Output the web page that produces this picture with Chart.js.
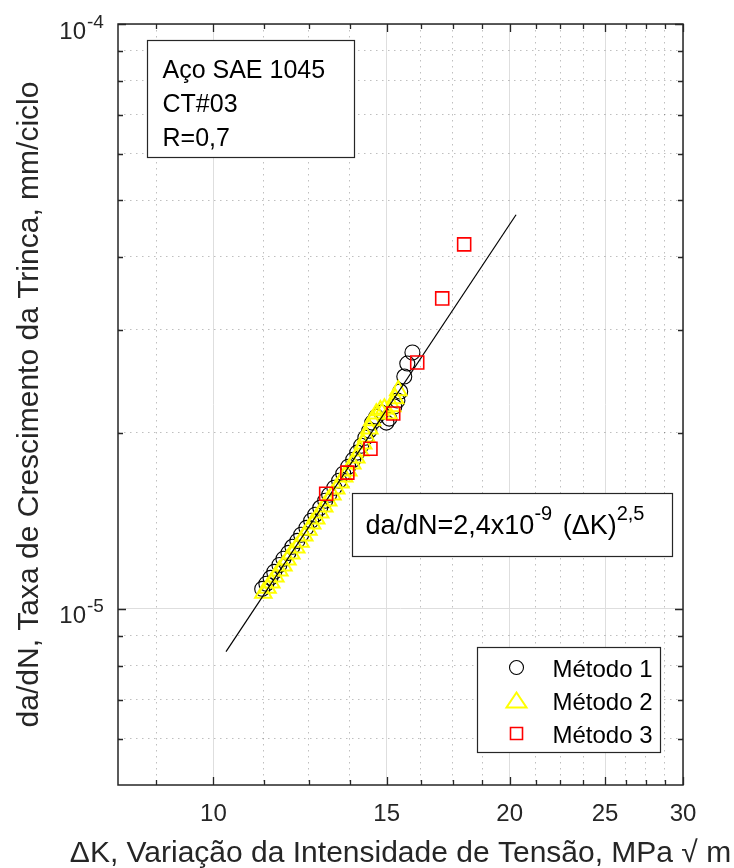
<!DOCTYPE html>
<html lang="pt">
  <head>
    <meta charset="UTF-8" />
    <title>da/dN x ΔK - Aço SAE 1045</title>
    <style>
      html,
      body {
        margin: 0;
        padding: 0;
        background: #fff;
        overflow: hidden;
      }
      .wrap {
        width: 734px;
        height: 868px;
      }
    </style>
  </head>
  <body>
    <div class="wrap"><canvas id="chart"></canvas></div>
    <script src="https://cdn.jsdelivr.net/npm/chart.js@4.4.1/dist/chart.umd.min.js"></script>
    <script>
      // ΔK (MPa√m) and da/dN (mm/ciclo).
      const metodo1DK = [11.21, 11.32, 11.43, 11.53, 11.67, 11.78, 11.92, 12.03, 12.17, 12.28, 12.43, 12.57, 12.69, 12.84, 12.99, 13.11, 13.27, 13.42, 13.55, 13.71, 13.87, 14.0, 14.13, 14.27, 14.4, 14.5, 14.64, 14.81, 14.99, 15.09, 15.27, 15.38, 15.48, 15.63, 15.74, 15.93];
      const metodo1Rate = [1.082e-5, 1.104e-5, 1.13e-5, 1.157e-5, 1.189e-5, 1.218e-5, 1.247e-5, 1.277e-5, 1.307e-5, 1.339e-5, 1.376e-5, 1.415e-5, 1.449e-5, 1.489e-5, 1.531e-5, 1.567e-5, 1.611e-5, 1.656e-5, 1.703e-5, 1.75e-5, 1.799e-5, 1.85e-5, 1.901e-5, 1.962e-5, 2.017e-5, 2.082e-5, 2.132e-5, 2.166e-5, 2.082e-5, 2.115e-5, 2.218e-5, 2.271e-5, 2.353e-5, 2.496e-5, 2.627e-5, 2.744e-5];

      const metodo2DK = [11.24, 11.35, 11.45, 11.56, 11.67, 11.78, 11.89, 12.0, 12.14, 12.26, 12.37, 12.49, 12.6, 12.72, 12.84, 12.96, 13.08, 13.21, 13.33, 13.46, 13.58, 13.71, 13.84, 13.97, 14.1, 14.2, 14.3, 14.4, 14.5, 14.64, 14.78, 14.92, 15.06, 15.2, 15.3, 15.41];
      const metodo2Rate = [1.065e-5, 1.086e-5, 1.108e-5, 1.135e-5, 1.162e-5, 1.185e-5, 1.213e-5, 1.242e-5, 1.272e-5, 1.302e-5, 1.334e-5, 1.365e-5, 1.398e-5, 1.426e-5, 1.46e-5, 1.495e-5, 1.531e-5, 1.567e-5, 1.605e-5, 1.643e-5, 1.683e-5, 1.723e-5, 1.771e-5, 1.814e-5, 1.864e-5, 1.916e-5, 1.97e-5, 2.033e-5, 2.099e-5, 2.157e-5, 2.183e-5, 2.2e-5, 2.157e-5, 2.218e-5, 2.289e-5, 2.362e-5];

      const metodo3DK = [13.02, 13.68, 14.44, 15.23, 16.11, 17.08, 17.98];
      const metodo3Rate = [1.574e-5, 1.71e-5, 1.879e-5, 2.158e-5, 2.638e-5, 3.395e-5, 4.2e-5];

      // Fitted Paris line, end points.
      const fitDK = [10.3, 20.3];
      const fitRate = [8.45e-6, 4.72e-5];

      const xMajor = [10, 15, 20, 25, 30];
      const xMinor = [8.75, 11.25, 12.5, 13.75, 16.25, 17.5, 18.75, 21.25, 22.5, 23.75, 26.25, 27.5, 28.75];
      const yMajor = [1e-5, 1e-4];
      const yMinor = [6e-6, 7e-6, 8e-6, 9e-6, 2e-5, 3e-5, 4e-5, 5e-5, 6e-5, 7e-5, 8e-5, 9e-5];

      const infoLines = ["Aço SAE 1045", "CT#03", "R=0,7"];
      const legendLabels = ["Método 1", "Método 2", "Método 3"];
      const xTitle = "ΔK, Variação da Intensidade de Tensão, MPa √ m";
      const yTitle = "da/dN, Taxa de Crescimento da Trinca, mm/ciclo";

      const TEXT = "#262626";
      const FONT = '"Liberation Sans", Arial, Helvetica, sans-serif';

      Chart.defaults.font.family = FONT;
      Chart.defaults.color = TEXT;

      function points(xs, ys) {
        return xs.map((x, i) => ({ x, y: ys[i] }));
      }

      function setTicks(values) {
        return (scale) => {
          scale.ticks = values.map((value) => ({ value }));
        };
      }

      // Text with a raised exponent, returns the x where it ended.
      function drawSup(ctx, x, y, base, sup, size) {
        ctx.font = `${size}px ${FONT}`;
        ctx.fillText(base, x, y);
        x += ctx.measureText(base).width;
        ctx.font = `${Math.round(size * 0.74)}px ${FONT}`;
        ctx.fillText(sup, x, y - size * 0.5);
        return x + ctx.measureText(sup).width;
      }

      const decor = {
        id: "decor",
        afterDraw(chart) {
          const { ctx, chartArea: a } = chart;
          const x = chart.scales.x;
          const y = chart.scales.y;
          ctx.save();

          // inward tick marks on all four sides
          ctx.strokeStyle = TEXT;
          ctx.lineWidth = 1.3;
          ctx.beginPath();
          const xMarks = (vals, len) => {
            for (const v of vals) {
              const px = Math.round(x.getPixelForValue(v)) + 0.5;
              ctx.moveTo(px, a.bottom);
              ctx.lineTo(px, a.bottom - len);
              ctx.moveTo(px, a.top);
              ctx.lineTo(px, a.top + len);
            }
          };
          const yMarks = (vals, len) => {
            for (const v of vals) {
              const py = Math.round(y.getPixelForValue(v)) + 0.5;
              ctx.moveTo(a.left, py);
              ctx.lineTo(a.left + len, py);
              ctx.moveTo(a.right, py);
              ctx.lineTo(a.right - len, py);
            }
          };
          xMarks(xMajor, 8);
          xMarks(xMinor, 5);
          yMarks(yMajor, 8);
          yMarks(yMinor, 5);
          ctx.stroke();

          ctx.lineWidth = 1.5;
          ctx.strokeRect(a.left, a.top, a.right - a.left, a.bottom - a.top);

          // y tick labels 10^n
          ctx.fillStyle = TEXT;
          ctx.textBaseline = "alphabetic";
          for (const v of yMajor) {
            const py = y.getPixelForValue(v);
            const exp = Math.round(Math.log10(v));
            ctx.font = `24px ${FONT}`;
            ctx.textAlign = "right";
            ctx.fillText("10", a.left - 32, py + 14.5);
            ctx.font = `19px ${FONT}`;
            ctx.textAlign = "left";
            ctx.fillText(String(exp), a.left - 31, py + 3.5);
          }

          // x axis title
          ctx.font = `30px ${FONT}`;
          ctx.textAlign = "center";
          ctx.fillText(xTitle, (a.left + a.right) / 2, chart.height - 6);

          // info box
          ctx.fillStyle = "#fff";
          ctx.strokeStyle = TEXT;
          ctx.lineWidth = 1.2;
          const bx = a.left + 29.5;
          const by = a.top + 16.5;
          ctx.fillRect(bx, by, 207, 117);
          ctx.strokeRect(bx, by, 207, 117);
          ctx.fillStyle = "#000";
          ctx.textAlign = "left";
          ctx.font = `25px ${FONT}`;
          infoLines.forEach((line, i) => {
            ctx.fillText(line, bx + 15, by + 37 + i * 34);
          });

          // equation box
          const ex = a.left + 234.5;
          const ey = a.top + 469.5;
          ctx.fillStyle = "#fff";
          ctx.fillRect(ex, ey, 320, 63);
          ctx.strokeRect(ex, ey, 320, 63);
          ctx.fillStyle = "#000";
          let tx = drawSup(ctx, ex + 13, ey + 40, "da/dN=2,4x10", "-9", 27);
          drawSup(ctx, tx + 3, ey + 40, " (ΔK)", "2,5", 27);

          // legend
          const lx = a.left + 359.5;
          const ly = a.top + 623.5;
          ctx.fillStyle = "#fff";
          ctx.fillRect(lx, ly, 183, 105);
          ctx.strokeRect(lx, ly, 183, 105);
          const mx = lx + 39;
          const rows = [20, 53, 86];
          chart.data.datasets
            .filter((d) => d.legend)
            .forEach((d, i) => {
              const cy = ly + rows[i];
              ctx.strokeStyle = d.borderColor;
              ctx.lineWidth = d.pointBorderWidth;
              ctx.beginPath();
              if (d.pointStyle === "circle") {
                ctx.arc(mx, cy, 7, 0, Math.PI * 2);
              } else if (d.pointStyle === "triangle") {
                ctx.moveTo(mx, cy - 8);
                ctx.lineTo(mx + 10, cy + 7);
                ctx.lineTo(mx - 10, cy + 7);
                ctx.closePath();
              } else {
                ctx.rect(mx - 6, cy - 6, 12, 12);
              }
              ctx.stroke();
              ctx.fillStyle = "#000";
              ctx.font = `24px ${FONT}`;
              ctx.fillText(legendLabels[i], lx + 75, cy + 9);
            });

          ctx.restore();
        },
      };

      new Chart(document.getElementById("chart"), {
        type: "scatter",
        data: {
          datasets: [
            {
              label: legendLabels[0],
              legend: true,
              data: points(metodo1DK, metodo1Rate),
              pointStyle: "circle",
              pointRadius: 7.5,
              borderColor: "#000000",
              backgroundColor: "transparent",
              pointBorderWidth: 1.1,
              order: 4,
            },
            {
              label: legendLabels[1],
              legend: true,
              data: points(metodo2DK, metodo2Rate),
              pointStyle: "triangle",
              pointRadius: 9.5,
              borderColor: "#ffff00",
              backgroundColor: "transparent",
              pointBorderWidth: 2,
              order: 3,
            },
            {
              label: legendLabels[2],
              legend: true,
              data: points(metodo3DK, metodo3Rate),
              pointStyle: "rect",
              pointRadius: 9.2,
              borderColor: "#ff0000",
              backgroundColor: "transparent",
              pointBorderWidth: 1.6,
              order: 1,
            },
            {
              label: "ajuste",
              type: "line",
              data: points(fitDK, fitRate),
              showLine: true,
              borderColor: "#000000",
              borderWidth: 1.2,
              pointRadius: 0,
              order: 2,
            },
          ],
        },
        options: {
          responsive: true,
          maintainAspectRatio: false,
          animation: false,
          layout: { padding: 0 },
          plugins: {
            legend: { display: false },
            tooltip: { enabled: false },
          },
          scales: {
            x: {
              type: "logarithmic",
              position: "bottom",
              min: 8,
              max: 30,
              afterBuildTicks: setTicks(xMajor),
              afterFit: (s) => (s.height = 83),
              grid: { color: "#dedede", lineWidth: 1, drawTicks: false },
              border: { display: false },
              ticks: {
                autoSkip: false,
                maxRotation: 0,
                padding: 15,
                color: TEXT,
                font: { size: 24 },
                callback: (v) => String(v),
              },
            },
            x2: {
              type: "logarithmic",
              position: "top",
              min: 8,
              max: 30,
              afterBuildTicks: setTicks(xMinor),
              afterFit: (s) => (s.height = 24),
              grid: { color: "rgba(0,0,0,0.25)", lineWidth: 1, drawTicks: false },
              border: { display: false, dash: [1.5, 4.5] },
              ticks: { display: false },
            },
            y: {
              type: "logarithmic",
              position: "left",
              min: 5e-6,
              max: 1e-4,
              afterBuildTicks: setTicks(yMajor),
              afterFit: (s) => (s.width = 118),
              grid: { color: "#dedede", lineWidth: 1, drawTicks: false },
              border: { display: false },
              ticks: { display: false },
              title: {
                display: true,
                text: yTitle,
                color: TEXT,
                font: { size: 30 },
                padding: { top: 12, bottom: 0 },
              },
            },
            y2: {
              type: "logarithmic",
              position: "right",
              min: 5e-6,
              max: 1e-4,
              afterBuildTicks: setTicks(yMinor),
              afterFit: (s) => (s.width = 51),
              grid: { color: "rgba(0,0,0,0.25)", lineWidth: 1, drawTicks: false },
              border: { display: false, dash: [1.5, 4.5] },
              ticks: { display: false },
            },
          },
        },
        plugins: [decor],
      });
    </script>
  </body>
</html>
